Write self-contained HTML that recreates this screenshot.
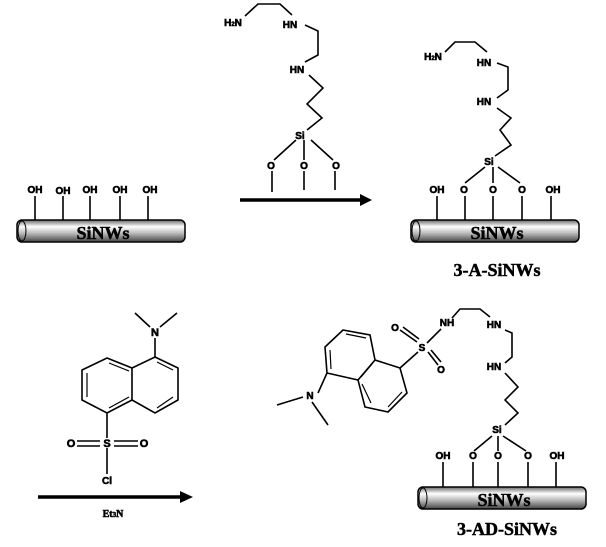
<!DOCTYPE html>
<html><head><meta charset="utf-8"><style>html,body{margin:0;padding:0;background:#fff}svg{display:block}</style></head>
<body>
<svg width="606" height="547" viewBox="0 0 606 547" xmlns="http://www.w3.org/2000/svg">
<defs>
<linearGradient id="rod" x1="0" y1="0" x2="0" y2="1">
<stop offset="0" stop-color="#666"/><stop offset="0.3" stop-color="#fff"/><stop offset="0.6" stop-color="#bbb"/><stop offset="1" stop-color="#444"/>
</linearGradient>
<g id="rodg">
<rect x="0" y="0" width="168" height="22" rx="5" fill="url(#rod)" stroke="#000" stroke-width="1.5"/>
<ellipse cx="5" cy="11" rx="4" ry="10" fill="none" stroke="#000" stroke-width="1"/>
</g>
</defs>
<g font-family="Liberation Sans, sans-serif" font-weight="bold" font-size="10" text-anchor="middle" fill="#000">
<g stroke="#000" stroke-width="1.6" fill="none">
<path d="M35 196V221M63 196V221M90 196V221M120 196V221M148 196V221"/>
<path d="M245 16L258 4H280L292 15M305 25L318 31V55L305 62M309 75L323 88L307 104L322 118L307 130M296 140L274 160M304 140V160M311 140L333 160M272 171V192M304 171V190M335 171V190"/>
<path d="M445 52L455 42H475L487 52M497 63L508 67V90L497 98M497 108L511 118L500 130L511 145L495 156M485 167L465 183M493 167V183M498 167L520 183M437 196V221M465 196V221M493 196V221M522 196V221M551 196V221"/>
<path d="M135 313L150 327M177 313L160 327M155 338V357M155 357L178 368V400L155 413L132 400V368ZM132 368L107 358L82 370V400L107 413L132 400M107 413V438M107 448V474M77 441H100M114 441H138M77 446H100M114 446H138"/>
<path d="M157 362L173 370M157 408L173 397M87 373V397M109 363L129 371M109 408L129 397" stroke-width="1.2"/>
<path d="M343 330L370 335L375 360L358 380L327 373L325 347ZM375 360L400 368L407 393L388 412L365 407L358 380M400 368L418 352M318 393L327 373M303 397L277 405M312 402L328 425M427 343L441 329M452 318L460 309H480L490 317M505 330L512 333V357L505 363M505 373L518 387L505 400L518 413L505 425M492 436L474 451M498 436V451M503 436L526 451M443 462V488M473 462V488M498 462V488M528 462V488M556 462V488"/>
<path d="M346 334L366 338M330 350L331 369M372 364L361 377M388 407L402 392M371 403L362 384" stroke-width="1.2"/>
<path d="M400 330L417 342M403 327L419 339M428 352L438 365M431 350L441 362"/>
</g>
<path d="M240 200H362" stroke="#000" stroke-width="3.5"/><path d="M360 194L372 200L360 206Z"/>
<path d="M38 497H182" stroke="#000" stroke-width="3.5"/><path d="M180 491L193 497L180 503Z"/>
<g stroke="#000" stroke-width="0.6">
<text x="35" y="193">OH</text><text x="63" y="194">OH</text><text x="90" y="193">OH</text><text x="120" y="193">OH</text><text x="150" y="193">OH</text>
<text x="233" y="26">H<tspan font-size="6">2</tspan>N</text><text x="290" y="28">HN</text><text x="297" y="73">HN</text>
<text x="300" y="139">Si</text><text x="271" y="169">O</text><text x="304" y="169">O</text><text x="336" y="169">O</text>
<text x="433" y="60">H<tspan font-size="6">2</tspan>N</text><text x="484" y="66">HN</text><text x="484" y="105">HN</text>
<text x="489" y="165">Si</text><text x="437" y="193">OH</text><text x="464" y="193">O</text><text x="493" y="193">O</text><text x="522" y="193">O</text><text x="553" y="193">OH</text>
<text x="155" y="336" font-size="11">N</text><text x="107" y="447" font-size="11">S</text><text x="71" y="447" font-size="11">O</text><text x="144" y="447" font-size="11">O</text><text x="107" y="484">Cl</text>
<text x="113" y="517" font-family="Liberation Serif, serif" font-size="10">Et<tspan font-size="7">3</tspan>N</text>
<text x="395" y="331">O</text><text x="422" y="351">S</text><text x="441" y="373">O</text><text x="447" y="326">NH</text><text x="494" y="328">HN</text><text x="494" y="370">HN</text>
<text x="310" y="399">N</text><text x="497" y="433">Si</text><text x="443" y="459">OH</text><text x="473" y="459">O</text><text x="498" y="459">O</text><text x="528" y="459">O</text><text x="557" y="459">OH</text>
</g>
</g>
<use href="#rodg" x="17" y="220"/>
<use href="#rodg" x="411" y="220"/>
<use href="#rodg" x="418" y="487"/>
<g font-family="Liberation Serif, serif" font-weight="bold" text-anchor="middle" fill="#000" stroke="#000" stroke-width="0.5">
<text x="103" y="239" font-size="18">SiNWs</text>
<text x="497" y="239" font-size="18">SiNWs</text>
<text x="504" y="506" font-size="18">SiNWs</text>
<text x="497" y="276" font-size="18">3-A-SiNWs</text>
<text x="507" y="535" font-size="18">3-AD-SiNWs</text>
</g>
</svg>
</body></html>
